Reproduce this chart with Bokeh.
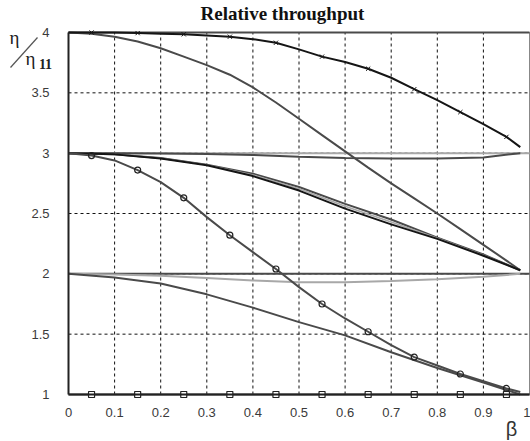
from bokeh.plotting import figure
from bokeh.models import FixedTicker, Label, Arrow, Range1d
from bokeh.embed import file_html
from bokeh.resources import INLINE

# ---- data ----
x_fine = [0, 0.05, 0.1, 0.15, 0.2, 0.25, 0.3, 0.35, 0.4, 0.45, 0.5, 0.55, 0.6, 0.65, 0.7, 0.75, 0.8, 0.85, 0.9, 0.95, 0.98]
cross_curve = [4.0, 4.0, 4.0, 3.995, 3.99, 3.985, 3.975, 3.965, 3.945, 3.915, 3.86, 3.80, 3.755, 3.70, 3.625, 3.53, 3.44, 3.34, 3.24, 3.135, 3.05]
gray_top = [4.0, 3.99, 3.965, 3.925, 3.87, 3.80, 3.73, 3.65, 3.545, 3.42, 3.285, 3.15, 3.015, 2.88, 2.75, 2.625, 2.50, 2.37, 2.24, 2.11, 2.03]
circle_curve = [3.0, 2.98, 2.94, 2.86, 2.76, 2.63, 2.47, 2.32, 2.18, 2.04, 1.89, 1.75, 1.63, 1.52, 1.41, 1.31, 1.24, 1.17, 1.11, 1.05, 1.02]

x_coarse = [0, 0.1, 0.2, 0.3, 0.4, 0.5, 0.6, 0.7, 0.8, 0.9, 0.98]
bundle_black = [3.0, 2.99, 2.955, 2.90, 2.81, 2.69, 2.54, 2.41, 2.29, 2.15, 2.03]
bundle_light = [3.0, 2.99, 2.957, 2.903, 2.82, 2.705, 2.56, 2.43, 2.295, 2.155, 2.03]
bundle_dark = [3.0, 2.99, 2.96, 2.905, 2.83, 2.72, 2.58, 2.45, 2.30, 2.16, 2.03]
dip3 = [3.0, 3.0, 2.997, 2.993, 2.985, 2.97, 2.96, 2.955, 2.955, 2.965, 3.0]
dip2 = [2.0, 1.995, 1.985, 1.965, 1.945, 1.93, 1.93, 1.94, 1.955, 1.975, 2.0]
lower_curve = [2.0, 1.97, 1.92, 1.83, 1.72, 1.60, 1.49, 1.35, 1.22, 1.10, 1.0]

x_flat = [0, 1]
flat4 = [4, 4]
flat3 = [3, 3]
flat2 = [2, 2]
flat1 = [1, 1]

marker_x = [0.05, 0.15, 0.25, 0.35, 0.45, 0.55, 0.65, 0.75, 0.85, 0.95]
cross_marks = [4.0, 3.995, 3.985, 3.965, 3.915, 3.80, 3.70, 3.53, 3.34, 3.135]
circle_marks = [2.98, 2.86, 2.63, 2.32, 2.04, 1.75, 1.52, 1.31, 1.17, 1.05]
square_marks = [1.0] * 10

x_ticks = [0, 0.1, 0.2, 0.3, 0.4, 0.5, 0.6, 0.7, 0.8, 0.9, 1]
x_tick_labels = ["0", "0.1", "0.2", "0.3", "0.4", "0.5", "0.6", "0.7", "0.8", "0.9", "1"]
y_ticks = [1, 1.5, 2, 2.5, 3, 3.5, 4]
y_tick_labels = ["1", "1.5", "2", "2.5", "3", "3.5", "4"]
x_lim = [0, 1]
y_lim = [1, 4]

title_text = "Relative throughput"
x_label_text = "β"

BLACK = "#151515"
DARK = "#4a4a4a"
LIGHT = "#a8a8a8"

# frame covers the whole canvas; the plotted area (0..1, 1..4) sits inside it
W, H = 530, 441
LEFT, TOP, RIGHT_PX, BOTTOM = 68, 32, 529, 394      # canvas pixels of x=0, y=4, x=1, y=1
kx = (x_lim[1] - x_lim[0]) / (RIGHT_PX - LEFT)
ky = (y_lim[1] - y_lim[0]) / (BOTTOM - TOP)
xr = Range1d(x_lim[0] - LEFT * kx, x_lim[1] + (W - RIGHT_PX) * kx)
yr = Range1d(y_lim[0] - (H - BOTTOM) * ky, y_lim[1] + TOP * ky)

p = figure(width=W, height=H, output_backend="svg", toolbar_location=None,
           x_range=xr, y_range=yr, min_border=0)
p.min_border_left = p.min_border_right = p.min_border_top = p.min_border_bottom = 0
p.background_fill_color = "white"
p.border_fill_color = "white"
p.outline_line_color = None
p.grid.visible = False

# axes, fixed at the data origin
p.yaxis.fixed_location = x_lim[0]
p.xaxis.fixed_location = y_lim[0]
p.yaxis.bounds = tuple(y_lim)
p.xaxis.bounds = tuple(x_lim)
for ax in (p.xaxis[0], p.yaxis[0]):
    ax.axis_line_color = "#222222"
    ax.axis_line_width = 2
    ax.major_tick_line_color = None
    ax.minor_tick_line_color = None
    ax.major_label_text_font = "Liberation Sans"
    ax.major_label_text_font_size = "13px"
    ax.major_label_text_color = "#3a3a3a"
p.xaxis.ticker = FixedTicker(ticks=x_ticks)
p.xaxis.major_label_overrides = dict(zip(x_ticks, x_tick_labels))
p.xaxis.major_label_standoff = 7
p.yaxis.ticker = FixedTicker(ticks=y_ticks)
p.yaxis.major_label_overrides = dict(zip(y_ticks, y_tick_labels))
p.yaxis.major_label_standoff = 13

# dashed grid inside the plotted area
p.segment(x0=x_ticks[1:-1], y0=[y_lim[0]] * (len(x_ticks) - 2),
          x1=x_ticks[1:-1], y1=[y_lim[1]] * (len(x_ticks) - 2),
          line_color="#111111", line_dash="3 3", line_width=1)
p.segment(x0=[x_lim[0]] * (len(y_ticks) - 2), y0=y_ticks[1:-1],
          x1=[x_lim[1]] * (len(y_ticks) - 2), y1=y_ticks[1:-1],
          line_color="#111111", line_dash="3 3", line_width=1)
# top and right border
p.line([x_lim[0], x_lim[1]], [y_lim[1], y_lim[1]], line_color="#444444", line_width=1)
p.line([x_lim[1], x_lim[1]], [y_lim[0], y_lim[1]], line_color="#888888", line_width=1)

# flat lines
p.line(x_flat, flat4, line_color=DARK, line_width=2)
p.line(x_flat, flat3, line_color=LIGHT, line_width=2)
p.line(x_flat, flat2, line_color=DARK, line_width=2)
p.line(x_flat, flat1, line_color=DARK, line_width=2)

# curves
p.line(x_coarse, dip3, line_color=DARK, line_width=2)
p.line(x_coarse, dip2, line_color=LIGHT, line_width=2)
p.line(x_fine, gray_top, line_color=DARK, line_width=2)
p.line(x_coarse, bundle_dark, line_color=DARK, line_width=2)
p.line(x_coarse, bundle_light, line_color=LIGHT, line_width=1.5)
p.line(x_coarse, bundle_black, line_color=BLACK, line_width=2)
p.line(x_coarse, lower_curve, line_color=DARK, line_width=2)
p.line(x_fine, circle_curve, line_color=DARK, line_width=2)
p.line(x_fine, cross_curve, line_color=BLACK, line_width=2)

# markers
p.scatter(marker_x, cross_marks, marker="x", size=6, line_color=BLACK, line_width=1)
p.scatter(marker_x, circle_marks, marker="circle", size=6, line_color="#222222",
          fill_color=None, line_width=1.2)
p.scatter(marker_x, square_marks, marker="square", size=6, line_color="#222222",
          fill_color="white", line_width=1.2)

# texts (canvas pixel -> data coordinates)
def px2x(px):
    return x_lim[0] + (px - LEFT) * kx

def py2y(py):
    return y_lim[0] + (BOTTOM - py) * ky

p.add_layout(Label(x=px2x(282), y=py2y(13), text=title_text, text_align="center",
                   text_baseline="middle", text_font="Liberation Serif",
                   text_font_style="bold", text_font_size="19px", text_color="#111111"))
p.add_layout(Label(x=px2x(14), y=py2y(37), text="η", text_align="center",
                   text_baseline="middle", text_font="Liberation Serif",
                   text_font_size="19px", text_color="#222222"))
p.add_layout(Label(x=px2x(30), y=py2y(58), text="η", text_align="center",
                   text_baseline="middle", text_font="Liberation Serif",
                   text_font_size="19px", text_color="#222222"))
p.add_layout(Label(x=px2x(45), y=py2y(63), text="11", text_align="center",
                   text_baseline="middle", text_font="Liberation Serif",
                   text_font_style="bold", text_font_size="14px", text_color="#222222"))
p.add_layout(Arrow(x_start=px2x(10), y_start=py2y(67), x_end=px2x(37), y_end=py2y(37),
                   end=None, line_color="#555555", line_width=1.2))
p.add_layout(Label(x=px2x(511), y=py2y(428), text=x_label_text, text_align="center",
                   text_baseline="middle", text_font="Liberation Sans",
                   text_font_size="20px", text_color="#333333"))

open("out.html", "w").write(file_html(p, INLINE))
